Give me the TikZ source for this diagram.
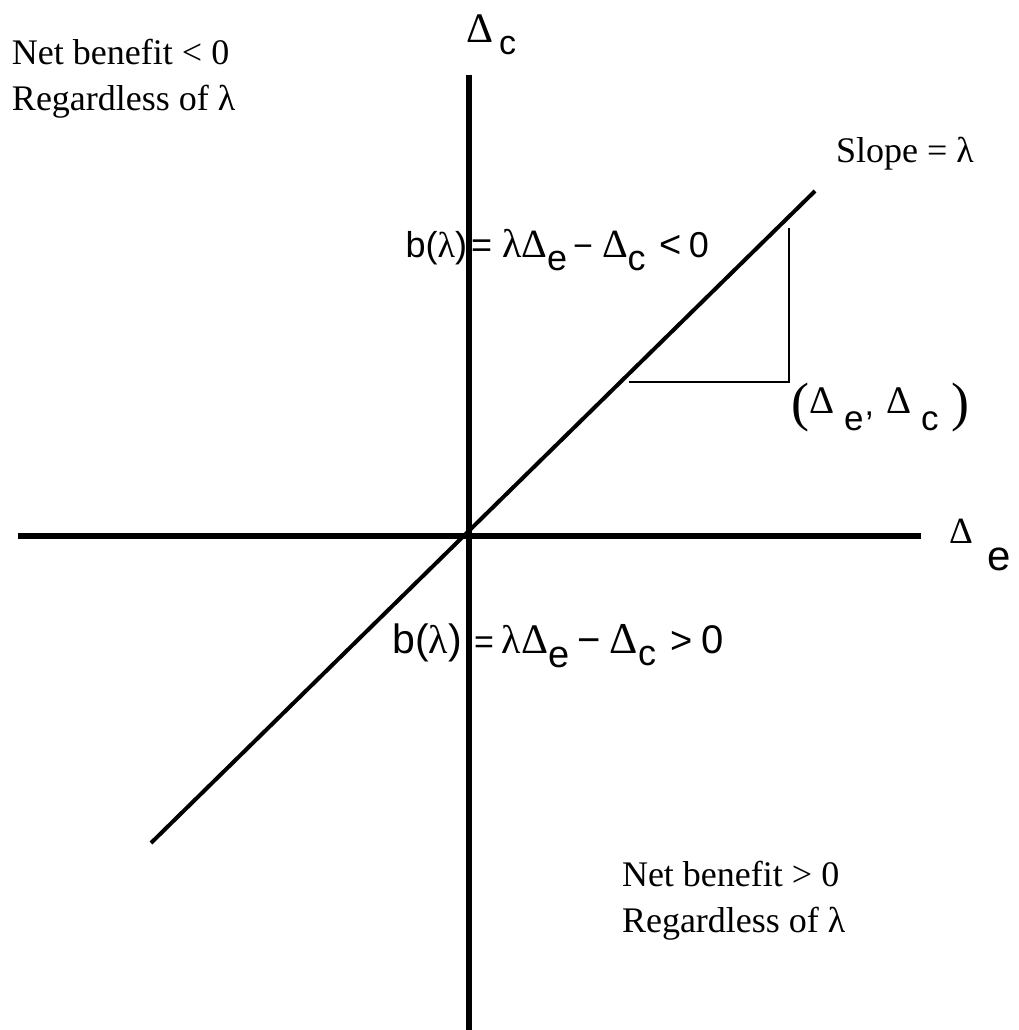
\documentclass[tikz,border=0pt]{standalone}
\usepackage{fontspec}
\setmainfont{Liberation Serif}
\newfontfamily\hv{Liberation Sans}
\newcommand\fsz[1]{\fontsize{#1}{#1}\selectfont}
\newcommand\gkl[1]{{\rmfamily\fsz{#1}λ}}
\newcommand\gkd[1]{{\rmfamily\fsz{#1}Δ}}
\begin{document}
\begin{tikzpicture}[x=1pt,y=-1pt,
  txt/.style={inner sep=0pt, outer sep=0pt, font=\fsz{36}},
  axisline/.style={line width=6.8pt, black},
  diagline/.style={line width=4pt, black},
  triline/.style={line width=2.5pt, black}]
\fill[white] (0,0) rectangle (1018,1030);
\useasboundingbox (0,0) rectangle (1018,1030);
% axes
\coordinate (ytop) at (469,75);
\coordinate (ybot) at (469,1030);
\coordinate (xleft) at (18,536);
\coordinate (xright) at (921,536);
\draw[axisline] (ytop) -- (ybot);
\draw[axisline] (xleft) -- (xright);
% slope line
\coordinate (dlow) at (151,843);
\coordinate (dhigh) at (815,191);
\draw[diagline] (dlow) -- (dhigh);
% slope triangle
\coordinate (t1) at (629,382);
\coordinate (t2) at (789,382);
\coordinate (t3) at (789,228);
\draw[triline] (t1) -- (t2) -- (t3);
% axis labels
\node[txt, anchor=base west] (ylab) at (466,43) {\gkd{42}\hspace{6pt}\raisebox{-12pt}{\hv\fsz{34}c}};
\node[txt, anchor=base west] (xlab) at (949,543) {\gkd{37}\hspace{15pt}\raisebox{-27pt}{\hv\fsz{42}e}};
% region texts
\node[txt, anchor=base west] (nb1) at (12,65) {Net benefit < 0};
\node[txt, anchor=base west] (rg1) at (12,111) {Regardless of λ};
\node[txt, anchor=base west] (nb2) at (622,886) {Net benefit > 0};
\node[txt, anchor=base west] (rg2) at (622,932) {Regardless of λ};
\node[txt, anchor=base west] (slope) at (836,162) {Slope = λ};
% point label
\node[txt, anchor=base west] (pt) at (791,420) {{\rmfamily\fsz{54}(}\hspace{1pt}\raisebox{7pt}{\gkd{39}}\hspace{9pt}\raisebox{-10pt}{\hv\fsz{35}e}\hspace{1pt}\raisebox{5pt}{\hv\fsz{34},}\hspace{13pt}\raisebox{7pt}{\gkd{39}}\hspace{9pt}\raisebox{-10pt}{\hv\fsz{35}c}\hspace{13pt}{\rmfamily\fsz{54})}};
% net benefit formulas
\node[txt, anchor=base east] (b1l) at (467,257) {\hv\fsz{36}b(\gkl{36})};
\node[txt, anchor=base west] (b1r) at (471,257) {\hv\fsz{36}=\hspace{10pt}\gkl{40}\gkd{40}\raisebox{-13pt}{\fsz{36}e}\hspace{6pt}{\fsz{34}−}\hspace{9pt}\gkd{40}\raisebox{-13pt}{\fsz{36}c}\hspace{14pt}{\fsz{38}<}\hspace{7pt}0};
\node[txt, anchor=base east] (b2l) at (462,653) {\hv\fsz{41}b(\gkl{40})};
\node[txt, anchor=base west] (b2r) at (474,653) {\hv\fsz{34}=\hspace{8pt}\gkl{40}\gkd{42}\raisebox{-14pt}{\fsz{38}e}\hspace{8pt}{\fsz{40}−}\hspace{9pt}\gkd{44}\raisebox{-12pt}{\fsz{36}c}\hspace{14pt}{\fsz{38}>}\hspace{9pt}{\fsz{40}0}};
\end{tikzpicture}
\end{document}
